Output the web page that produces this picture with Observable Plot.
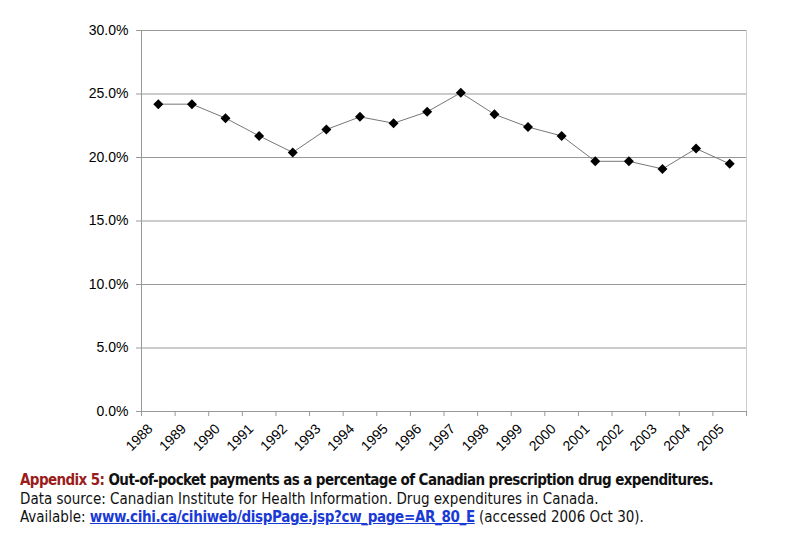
<!DOCTYPE html>
<html>
<head>
<meta charset="utf-8">
<script src="https://cdn.jsdelivr.net/npm/d3@7"></script>
<script src="https://cdn.jsdelivr.net/npm/@observablehq/plot@0.6"></script>
<style>
  html, body { margin: 0; padding: 0; background: #fff; }
  #chart svg { display: block; }
  #caption { font-family: "DejaVu Sans Condensed", "DejaVu Sans", sans-serif; font-size: 15px; line-height: 18.5px; color: #111; margin: 11px 0 0 20px; }
  #caption .b { font-weight: bold; letter-spacing: -0.6px; }
  #caption .ap { color: #9b1c1c; }
  #caption a { color: #1a3ad6; text-decoration: underline; font-weight: bold; letter-spacing: -0.35px; }
</style>
</head>
<body>
<div id="chart"></div>
<div id="caption">
  <div class="b"><span class="ap">Appendix 5:</span> Out-of-pocket payments as a percentage of Canadian prescription drug expenditures.</div>
  <div>Data source: Canadian Institute for Health Information. Drug expenditures in Canada.</div>
  <div>Available: <a href="#">www.cihi.ca/cihiweb/dispPage.jsp?cw_page=AR_80_E</a> (accessed 2006 Oct 30).</div>
</div>
<script>
const years = [1988,1989,1990,1991,1992,1993,1994,1995,1996,1997,1998,1999,2000,2001,2002,2003,2004,2005];
const shares = [0.242,0.242,0.231,0.217,0.204,0.222,0.232,0.227,0.236,0.251,0.234,0.224,0.217,0.197,0.197,0.191,0.207,0.195];
const yTicks = [0,0.05,0.10,0.15,0.20,0.25,0.30];
const edges = d3.range(1987.5, 2006, 1);

const data = years.map((y, i) => ({year: y, share: shares[i]}));

const chart = Plot.plot({
  width: 800,
  height: 460,
  marginLeft: 141,
  marginRight: 54,
  marginTop: 30,
  marginBottom: 49,
  style: {fontFamily: "Liberation Sans, Arial, sans-serif", background: "#fff"},
  x: {domain: [1987.5, 2005.5]},
  y: {domain: [0, 0.30]},
  marks: [
    Plot.ruleY(yTicks, {stroke: "#999", strokeWidth: 1}),
    Plot.ruleX([2005.5], {stroke: "#ccc", strokeWidth: 1}),
    Plot.ruleX([1987.5], {stroke: "#999", strokeWidth: 1}),
    Plot.axisY({ticks: yTicks, tickFormat: d3.format(".1%"), tickSize: 5, tickPadding: 8, fontSize: 14, color: "#000", stroke: "#999", label: null}),
    Plot.axisX({ticks: edges, tickSize: 5, tickFormat: () => "", stroke: "#999", label: null}),
    Plot.axisX({ticks: years, tickSize: 0, tickPadding: 15, dx: -8, tickRotate: -45, tickFormat: d => String(d), fontSize: 14, color: "#000", label: null}),
    Plot.line(data, {x: "year", y: "share", stroke: "#777", strokeWidth: 1}),
    Plot.dot(data, {x: "year", y: "share", symbol: "diamond2", fill: "#000", stroke: "none", r: 4.5})
  ]
});
document.getElementById("chart").appendChild(chart);
</script>
</body>
</html>
